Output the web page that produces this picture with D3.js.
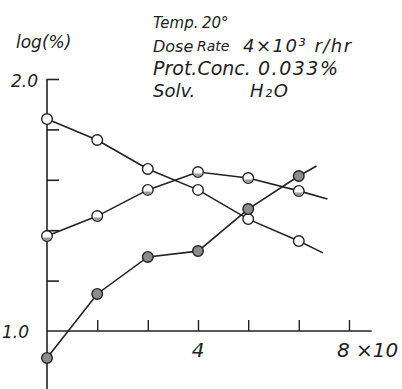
<!DOCTYPE html>
<html>
<head>
<meta charset="utf-8">
<script src="https://cdn.jsdelivr.net/npm/d3@7"></script>
<style>
  body { margin: 0; background: #fff; }
  text { font-family: 'DejaVu Sans', sans-serif; font-style: italic; fill: #222; }
</style>
</head>
<body>
<div class="chart"></div>
<script>
let width = 402
let height = 389

// x positions of the readings (units of x10), same for all three curves
let xValues = [0, 1.33, 2.67, 4, 5.33, 6.67]
let xTicks = [1.33, 2.67, 4, 5.33, 6.67, 8]
let yTicks = [1.2, 1.4, 1.6, 1.8, 2.0]

// log(%)
let openDown = [1.841, 1.758, 1.643, 1.560, 1.444, 1.357]
let halfOpen = [1.377, 1.456, 1.560, 1.631, 1.607, 1.556]
let filled = [0.893, 1.147, 1.294, 1.317, 1.484, 1.615]

// where each drawn line runs out past its last reading
let tails = [
    { x: 7.31, y: 1.31 },
    { x: 7.43, y: 1.524 },
    { x: 7.14, y: 1.655 },
]

let notes = ['Temp.', 'Dose', 'Prot.Conc.', 'Solv.']
let noteValues = ['20°', '4×10³ r/hr', '0.033%', 'H₂O']

let x = d3.scaleLinear().domain([0, 8]).range([47, 349])
let y = d3.scaleLinear().domain([1, 2]).range([331, 79])

let svg = d3.select('div.chart')
    .append('svg')
    .attr('width', width)
    .attr('height', height)

let ink = '#222'

// y axis: line runs past 1.0 down to the bottom edge, ticks point inward
svg.append('line')
    .attr('x1', x(0)).attr('x2', x(0))
    .attr('y1', y(2)).attr('y2', height)
    .style('stroke', ink).style('stroke-width', 1.6)

let yAxis = svg.append('g')
    .attr('transform', `translate(${x(0)},0)`)
    .call(d3.axisLeft(y).tickValues(yTicks).tickSizeInner(-12).tickSizeOuter(0).tickFormat(''))
yAxis.select('.domain').remove()
yAxis.selectAll('line').style('stroke', ink).style('stroke-width', 1.6)

// x axis along log = 1.0, ticks pointing up
let xAxis = svg.append('g')
    .attr('transform', `translate(0,${y(1)})`)
    .call(d3.axisTop(x).tickValues(xTicks).tickSizeInner(11).tickSizeOuter(0).tickFormat(''))
xAxis.select('.domain').attr('d', `M${x(0)},0H${x(8.6)}`).style('stroke', ink).style('stroke-width', 1.6)
xAxis.selectAll('line').style('stroke', ink).style('stroke-width', 1.4)

// curves
let line = d3.line().x(d => x(d.x)).y(d => y(d.y))
let series = [
    { vals: openDown, fill: '#fff', half: false },
    { vals: halfOpen, fill: '#fff', half: true },
    { vals: filled, fill: '#8c8c8c', half: false },
]
series.forEach((s, i) => {
    let pts = xValues.map((xv, j) => ({ x: xv, y: s.vals[j] }))
    svg.append('path')
        .datum(pts.concat([tails[i]]))
        .attr('d', line)
        .style('fill', 'none')
        .style('stroke', ink)
        .style('stroke-width', 1.6)
})
series.forEach(s => {
    let pts = xValues.map((xv, j) => ({ x: xv, y: s.vals[j] }))
    let g = svg.append('g')
    g.selectAll('circle')
        .data(pts)
        .enter()
        .append('circle')
        .attr('cx', d => x(d.x))
        .attr('cy', d => y(d.y))
        .attr('r', 5.3)
        .style('fill', s.fill)
        .style('stroke', ink)
        .style('stroke-width', 1.4)
    if (s.half) {
        g.selectAll('path.shade')
            .data(pts)
            .enter()
            .append('path')
            .attr('class', 'shade')
            .attr('d', d => {
                let cx = x(d.x), cy = y(d.y)
                return `M${cx - 4.4},${cy + 1.5}A4.8,4.8 0 0 0 ${cx + 4.4},${cy + 1.5}Z`
            })
            .style('fill', '#999')
    }
})

// axis labels
svg.append('text').attr('x', 16).attr('y', 48).style('font-size', '17px').text('log(%)')
svg.append('text').attr('x', 38).attr('y', y(2) + 8).attr('text-anchor', 'end').style('font-size', '17px').text('2.0')
svg.append('text').attr('x', 29).attr('y', y(1) + 7).attr('text-anchor', 'end').style('font-size', '17px').text('1.0')
svg.append('text').attr('x', x(4)).attr('y', y(1) + 26).attr('text-anchor', 'middle').style('font-size', '20px').text('4')
svg.append('text').attr('x', 337).attr('y', y(1) + 26).style('font-size', '20px').text('8 ×10')

// experiment notes
let noteY = [28, 52, 75, 97]
let noteX = [202, 243, 258, 250]
let noteSize = [15, 16, 19, 18]
notes.forEach((n, i) => {
    svg.append('text').attr('x', 153).attr('y', noteY[i])
        .style('font-size', noteSize[i] + 'px').text(n)
    svg.append('text').attr('x', noteX[i]).attr('y', noteY[i])
        .style('font-size', (i == 1 ? 18 : noteSize[i]) + 'px')
        .style('letter-spacing', i == 0 ? '0px' : '1.5px')
        .text(noteValues[i])
})
svg.append('text').attr('x', 197).attr('y', 51).style('font-size', '14px').text('Rate')
</script>
</body>
</html>
